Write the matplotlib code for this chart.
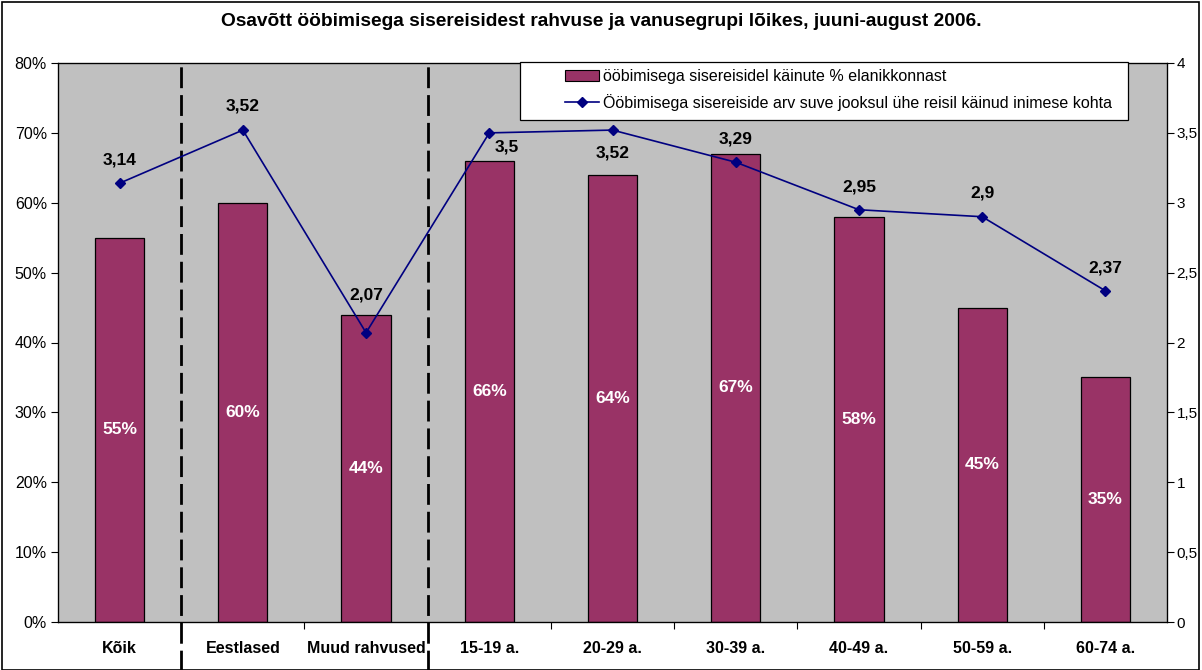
import matplotlib
matplotlib.use("Agg")
import matplotlib.pyplot as plt
from matplotlib.lines import Line2D
from matplotlib.patches import Rectangle
import matplotlib.transforms as mtransforms

plt.rcParams['font.family'] = ['Liberation Sans', 'DejaVu Sans']

categories = ["Kõik", "Eestlased", "Muud rahvused", "15-19 a.", "20-29 a.",
              "30-39 a.", "40-49 a.", "50-59 a.", "60-74 a."]
share_pct = [55, 60, 44, 66, 64, 67, 58, 45, 35]
trips_per_person = [3.14, 3.52, 2.07, 3.5, 3.52, 3.29, 2.95, 2.9, 2.37]
left_ticks = [0, 10, 20, 30, 40, 50, 60, 70, 80]
right_ticks = [0, 0.5, 1, 1.5, 2, 2.5, 3, 3.5, 4]
bar_label = "ööbimisega sisereisidel käinute % elanikkonnast"
line_label = "Ööbimisega sisereiside arv suve jooksul ühe reisil käinud inimese kohta"
title = "Osavõtt ööbimisega sisereisidest rahvuse ja vanusegrupi lõikes, juuni-august 2006."

# label placement offsets (pixels) for the line data labels
label_dx = [0, 0, 0, 17, 0, 0, 0, 0, 0]
label_dy = [23, 24, 38, -14, -23, 23, 23, 24, 23]

W, H = 1202, 670
fig = plt.figure(figsize=(W / 100, H / 100), dpi=100)
fig.patches.append(Rectangle((2 / W, 0.0), (1199 - 2) / W, (H - 2) / H, transform=fig.transFigure,
                             fill=False, edgecolor='black', linewidth=1.2))

ax = fig.add_axes([58 / W, (H - 622) / H, (1167 - 58) / W, (622 - 63) / H])
ax.set_facecolor('#C0C0C0')
x = list(range(len(categories)))
ax.bar(x, share_pct, width=0.40, color='#993366', edgecolor='black',
       linewidth=0.9, zorder=2)
ax.set_xlim(-0.5, len(categories) - 0.5)
ax.set_ylim(0, 80)
ax.set_yticks(left_ticks)
ax.set_yticklabels([f"{v}%" for v in left_ticks], fontsize=11.5)
ax.set_xticks([i + 0.5 for i in range(len(categories) - 1)])
ax.set_xticklabels([])
ax.set_xticks(x, minor=True)
ax.set_xticklabels(categories, minor=True, fontsize=11.5, fontweight='bold')
ax.tick_params(axis='x', which='minor', length=0, pad=14)
ax.tick_params(axis='x', which='major', length=5, direction='out')
ax.tick_params(axis='y', length=5, direction='out', pad=3)
for s in ax.spines.values():
    s.set_linewidth(0.9)

for xi, v in zip(x, share_pct):
    ax.text(xi, v / 2, f"{v}%", ha='center', va='center', color='white',
            fontsize=12.5, fontweight='bold', zorder=5)

ax2 = ax.twinx()
ax2.set_ylim(0, 4)
ax2.set_yticks(right_ticks)
ax2.set_yticklabels([f"{v:g}".replace('.', ',') for v in right_ticks], fontsize=11)
ax2.tick_params(axis='y', length=5, direction='out', pad=2)
ax2.plot(x, trips_per_person, color='#000080', marker='D', markersize=5.5,
         linewidth=1.2, zorder=4)
for xi, v, dx, dy in zip(x, trips_per_person, label_dx, label_dy):
    ax2.annotate(f"{v:g}".replace('.', ','), (xi, v), xytext=(dx, dy),
                 textcoords='offset pixels', ha='center', va='center',
                 fontsize=12.5, fontweight='bold')

# dashed separators
trans = mtransforms.blended_transform_factory(ax.transData, ax.transAxes)
for bx in [0.5, 2.5]:
    ax.plot([bx, bx], [-0.09, 1.0], transform=trans, color='black',
            linestyle=(0, (7.5, 2.5)), linewidth=2, clip_on=False, zorder=6)

# legend
box = Rectangle((520 / W, (H - 120) / H), (1128 - 520) / W, (120 - 62) / H,
                transform=fig.transFigure, facecolor='white', edgecolor='black',
                linewidth=0.9, zorder=9)
ax2.add_patch(box)
box.set_clip_on(False)
handles = [Rectangle((0, 0), 1, 1, facecolor='#993366', edgecolor='black', linewidth=0.8),
           Line2D([], [], color='#000080', marker='D', markersize=5.5, linewidth=1.2)]
leg = ax2.legend(handles, [bar_label, line_label], loc='upper left',
                 bbox_to_anchor=(565 / W, (H - 69) / H),
                 bbox_transform=fig.transFigure,
                 fontsize=11.5, frameon=False, borderaxespad=0, borderpad=0,
                 handlelength=2.1, handletextpad=0.25, labelspacing=0.62)
leg.set_zorder(10)

fig.text(0.5, (H - 22) / H, title, ha='center', va='center', fontsize=13.8,
         fontweight='bold')

fig.savefig("out.png", dpi=100)
